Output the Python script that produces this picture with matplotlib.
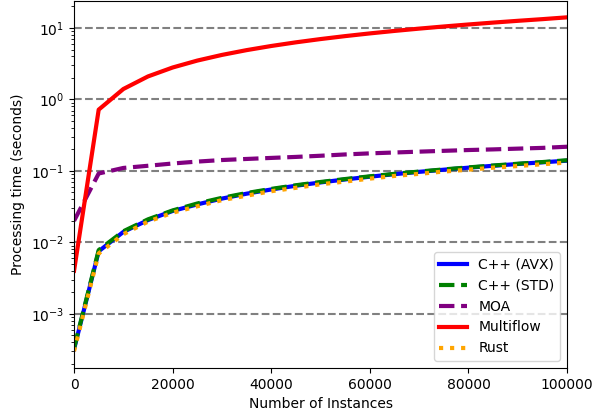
import matplotlib
matplotlib.use('Agg')
import matplotlib.pyplot as plt

instances = [0, 5000, 10000, 15000, 20000, 25000, 30000, 35000, 40000, 45000, 50000,
             55000, 60000, 65000, 70000, 75000, 80000, 85000, 90000, 95000, 100000]

cpp_avx = [0.00032, 0.0075, 0.0140, 0.0205, 0.0275, 0.034, 0.041, 0.048, 0.055, 0.062, 0.069,
           0.076, 0.083, 0.090, 0.097, 0.104, 0.111, 0.118, 0.125, 0.132, 0.139]
cpp_std = [0.00033, 0.0078, 0.0143, 0.0210, 0.0280, 0.035, 0.042, 0.049, 0.056, 0.063, 0.070,
           0.077, 0.084, 0.091, 0.098, 0.105, 0.112, 0.119, 0.126, 0.133, 0.141]
moa = [0.020, 0.092, 0.110, 0.118, 0.127, 0.135, 0.142, 0.147, 0.152, 0.157, 0.163,
       0.170, 0.176, 0.181, 0.186, 0.191, 0.196, 0.200, 0.205, 0.210, 0.218]
multiflow = [0.0040, 0.72, 1.40, 2.10, 2.80, 3.50, 4.20, 4.90, 5.60, 6.30, 7.00,
             7.70, 8.40, 9.10, 9.80, 10.5, 11.2, 11.9, 12.6, 13.3, 14.1]
rust = [0.00030, 0.0070, 0.0130, 0.0195, 0.0260, 0.032, 0.039, 0.045, 0.052, 0.058, 0.065,
        0.071, 0.078, 0.085, 0.091, 0.098, 0.104, 0.111, 0.117, 0.124, 0.131]

fig = plt.figure(figsize=(6.02, 4.12), dpi=100)
ax = fig.add_axes([0.123, 0.107, 0.819, 0.891])

lw = 3
ax.plot(instances, cpp_avx, color='blue', linestyle='-', linewidth=lw, label='C++ (AVX)')
ax.plot(instances, cpp_std, color='green', linestyle='--', linewidth=lw, label='C++ (STD)')
ax.plot(instances, moa, color='purple', linestyle='--', linewidth=lw, label='MOA')
ax.plot(instances, multiflow, color='red', linestyle='-', linewidth=lw, label='Multiflow')
ax.plot(instances, rust, color='orange', linestyle=':', linewidth=lw, label='Rust')

ax.set_yscale('log')
ax.set_xlim(0, 100000)
ax.set_ylim(1.75e-4, 24)
ax.yaxis.grid(True, which='major', linestyle='--', color='gray', linewidth=1.5)
ax.set_axisbelow(True)

ax.set_xlabel('Number of Instances')
ax.set_ylabel('Processing time (seconds)')
ax.legend(loc='lower right')

fig.savefig('out.png', dpi=100)
